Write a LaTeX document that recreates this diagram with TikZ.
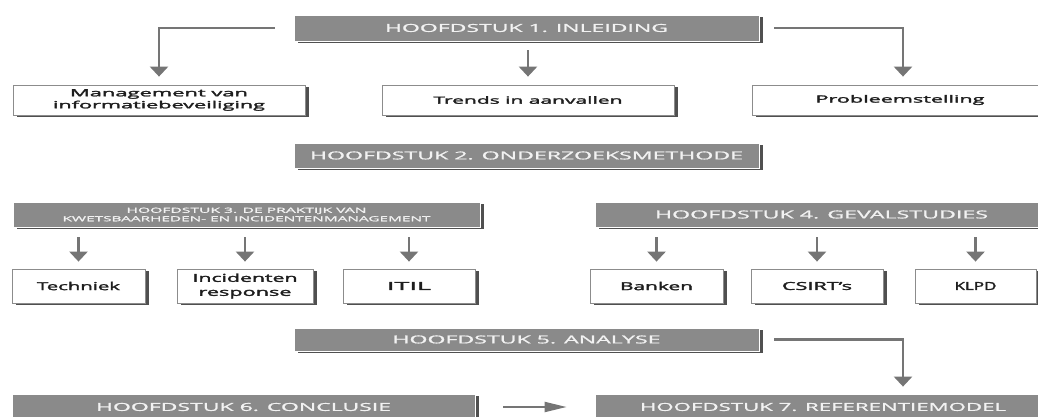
\documentclass[tikz,border=0pt]{standalone}
\usepackage{fontspec}
\setmainfont{Open Sans}
\newfontfamily\darkfont{Open Sans}[FakeBold=2]
\newfontfamily\capfont{Open Sans}[FakeBold=1]
\usepackage{graphicx}
\usetikzlibrary{arrows.meta,calc,shadows}
\definecolor{boxgray}{HTML}{8A8A8A}
\definecolor{shadowgray}{HTML}{505050}
\definecolor{arrowgray}{HTML}{757575}
\definecolor{textlight}{HTML}{F2F2F2}
\definecolor{textdark}{HTML}{1E1E1E}
\definecolor{edgegray}{HTML}{8C8C8C}
\newcommand\fitw[2]{\resizebox{#1pt}{\height}{#2}}
\tikzset{
  boxshadow/.style={drop shadow={shadow xshift=3.5pt, shadow yshift=-2pt, fill=shadowgray, opacity=1}},
  chapter/.style={rectangle, fill=boxgray, draw=white, line width=0.8pt, inner sep=0pt,
    text=textlight, font=\capfont\fontsize{11}{13}\selectfont, align=center, boxshadow},
  topic/.style={rectangle, fill=white, draw=edgegray, line width=0.8pt, inner sep=0pt,
    text=textdark, align=center, boxshadow},
  arr/.style={draw=arrowgray, line width=2.6pt, -{Triangle[width=18pt,length=10pt]}},
  harr/.style={draw=arrowgray, line width=2pt, -{Triangle[width=10pt,length=22pt]}},
}
\begin{document}
\begin{tikzpicture}[x=1pt,y=-1pt]
\useasboundingbox (0,0) rectangle (1038,417);
\clip (0,0) rectangle (1038,417);

% chapter 1 and its topics
\node[chapter, minimum width=465pt, minimum height=26pt] (hs1) at (526.5,28) {\fitw{283}{HOOFDSTUK 1. INLEIDING}};
\node[topic, minimum width=292pt, minimum height=30pt, font=\darkfont\fontsize{10}{12}\selectfont] (l1) at (159,100)
  {\fitw{178}{Management van}\\\fitw{212}{informatiebeveiliging}};
\node[topic, minimum width=292pt, minimum height=30pt, font=\darkfont\fontsize{10}{12}\selectfont] (l2) at (528,100)
  {\fitw{189}{Trends in aanvallen}};
\node[topic, minimum width=296pt, minimum height=30pt, font=\darkfont\fontsize{10}{12}\selectfont] (l3) at (900,100)
  {\fitw{169}{Probleemstelling}};

% chapter 2
\node[chapter, minimum width=465pt, minimum height=25pt] (hs2) at (526.5,155.5) {\fitw{433}{HOOFDSTUK 2. ONDERZOEKSMETHODE}};

% chapter 3 and 4
\node[chapter, minimum width=467pt, minimum height=25pt, font=\capfont\fontsize{7}{8.5}\selectfont] (hs3) at (246.5,214.5)
  {\fitw{240}{HOOFDSTUK 3. DE PRAKTIJK VAN}\\\fitw{368}{KWETSBAARHEDEN- EN INCIDENTENMANAGEMENT}};
\node[chapter, minimum width=453pt, minimum height=25pt] (hs4) at (821.5,214.5) {\fitw{333}{HOOFDSTUK 4. GEVALSTUDIES}};

\tikzset{row3/.style={topic, minimum height=34pt, font=\darkfont\fontsize{11}{14}\selectfont}}
\node[row3, minimum width=133pt] (tech) at (78.5,286) {\fitw{83}{Techniek}};
\node[row3, minimum width=136pt] (inc) at (245,286) {\fitw{105}{Incidenten}\\\fitw{93}{response}};
\node[row3, minimum width=132pt] (itil) at (409,286) {\fitw{44}{ITIL}};
\node[row3, minimum width=133pt] (bank) at (656.5,286) {\fitw{73}{Banken}};
\node[row3, minimum width=132pt] (csirt) at (817,286) {\fitw{70}{CSIRT’s}};
\node[row3, minimum width=121pt] (klpd) at (975.5,286) {\fitw{42}{KLPD}};

% chapters 5, 6, 7
\node[chapter, minimum width=465pt, minimum height=23pt] (hs5) at (526.5,339.5) {\fitw{268}{HOOFDSTUK 5. ANALYSE}};
\node[chapter, minimum width=463pt, minimum height=26pt] (hs6) at (243.5,407) {\fitw{295}{HOOFDSTUK 6. CONCLUSIE}};
\node[chapter, minimum width=456pt, minimum height=26pt] (hs7) at (823,407) {\fitw{366}{HOOFDSTUK 7. REFERENTIEMODEL}};

% connectors
\draw[arr] ($(hs1.west)+(-19,0)$) -| ($(l1.north)+(0,-8)$);
\draw[arr, shorten <=9pt, shorten >=8pt] (hs1.south -| l2.north) -- (l2.north);
\draw[arr] ($(hs1.east)+(15,0)$) -| ($(l3.north)+(3,-8)$);

\foreach \b in {tech,inc,itil}
  \draw[arr, shorten <=10pt, shorten >=7pt] (hs3.south -| \b.north) -- (\b.north);
\foreach \b in {bank,csirt,klpd}
  \draw[arr, shorten <=10pt, shorten >=7pt] (hs4.south -| \b.north) -- (\b.north);

\draw[arr] ($(hs5.east)+(15,0)$) -| ($(hs7.north)+(80,-7)$);
\draw[harr, shorten <=28pt, shorten >=28pt] (hs6.east) -- (hs6.east -| hs7.west);
\end{tikzpicture}
\end{document}
